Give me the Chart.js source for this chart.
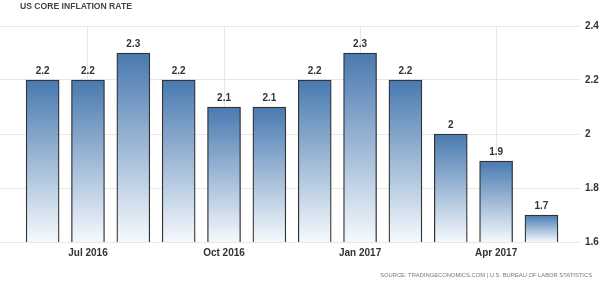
<!DOCTYPE html>
<html>
<head>
<meta charset="utf-8">
<script src="https://cdn.jsdelivr.net/npm/chart.js@4"></script>
<style>
  body { margin: 0; background: #fff; }
  #wrap { position: relative; width: 600px; height: 282px; }
  #title { position: absolute; left: 20px; top: 1px; font: bold 8.6px "Liberation Sans", Arial, sans-serif; color: #444; }
  #source { position: absolute; right: 8px; top: 272px; font: 5.8px "Liberation Sans", Arial, sans-serif; color: #777; white-space: nowrap; }
  canvas { position: absolute; left: 0; top: 0; }
</style>
</head>
<body>
<div id="wrap">
  <canvas id="chartCanvas" width="600" height="282"></canvas>
  <div id="title">US CORE INFLATION RATE</div>
  <div id="source">SOURCE: TRADINGECONOMICS.COM | U.S. BUREAU OF LABOR STATISTICS</div>
</div>
<script>
/********** DATA **********/
const months = ["Jun 2016", "Jul 2016", "Aug 2016", "Sep 2016", "Oct 2016", "Nov 2016",
                "Dec 2016", "Jan 2017", "Feb 2017", "Mar 2017", "Apr 2017", "May 2017"];
const coreInflation = [2.2, 2.2, 2.3, 2.2, 2.1, 2.1, 2.2, 2.3, 2.2, 2.0, 1.9, 1.7];
const xTickLabels = ["Jul 2016", "Oct 2016", "Jan 2017", "Apr 2017"];
const yTicks = [1.6, 1.8, 2.0, 2.2, 2.4];

const labelFont = { family: "'Liberation Sans', Arial, sans-serif", size: 10, weight: 'bold' };

// per-bar vertical gradient, dark blue on top fading to white at the base
function barGradient(ctx) {
  const chart = ctx.chart;
  const area = chart.chartArea;
  if (!area) return '#4a7eb4';
  const yScale = chart.scales.y;
  const top = yScale.getPixelForValue(ctx.raw.y);
  const bottom = yScale.getPixelForValue(yScale.min);
  const g = chart.ctx.createLinearGradient(0, top, 0, bottom);
  g.addColorStop(0, '#4879b0');
  g.addColorStop(1, '#f5f9fd');
  return g;
}

// value labels above each bar
const valueLabels = {
  id: 'valueLabels',
  afterDatasetsDraw(chart) {
    const ctx = chart.ctx;
    const meta = chart.getDatasetMeta(0);
    ctx.save();
    ctx.font = "bold 10px 'Liberation Sans', Arial, sans-serif";
    ctx.fillStyle = '#333';
    ctx.textAlign = 'center';
    ctx.textBaseline = 'bottom';
    meta.data.forEach((bar, i) => {
      ctx.fillText(String(coreInflation[i]), bar.x, bar.y - 4);
    });
    ctx.restore();
  }
};

new Chart(document.getElementById("chartCanvas").getContext("2d"), {
  type: 'bar',
  data: {
    datasets: [{
      data: coreInflation.map((v, i) => ({ x: i, y: v })),
      backgroundColor: barGradient,
      borderColor: '#333',
      borderWidth: 1.3,
      borderSkipped: false,
      barThickness: 33
    }]
  },
  options: {
    responsive: false,
    animation: false,
    layout: { padding: { left: 0, right: 0, top: 26, bottom: 0 } },
    plugins: { legend: { display: false }, tooltip: { enabled: false } },
    scales: {
      x: {
        type: 'linear',
        offset: false,
        min: -0.94,
        max: 11.85,
        afterBuildTicks(axis) {
          axis.ticks = xTickLabels.map(l => ({ value: months.indexOf(l) }));
        },
        afterFit(axis) { axis.height = 40; },
        grid: { color: '#e6e6e6', drawTicks: false, offset: false },
        border: { display: false },
        ticks: {
          padding: 5,
          color: '#333',
          font: labelFont,
          maxRotation: 0,
          autoSkip: false,
          callback: v => months[v]
        }
      },
      y: {
        position: 'right',
        min: 1.6,
        max: 2.4,
        afterBuildTicks(axis) {
          axis.ticks = yTicks.map(v => ({ value: v }));
        },
        afterFit(axis) { axis.width = 20; },
        grid: { color: '#e6e6e6', drawTicks: false },
        border: { display: false },
        ticks: {
          padding: 5,
          color: '#333',
          font: labelFont,
          callback: v => String(Number(v.toFixed(1)))
        }
      }
    }
  },
  plugins: [valueLabels]
});
</script>
</body>
</html>
